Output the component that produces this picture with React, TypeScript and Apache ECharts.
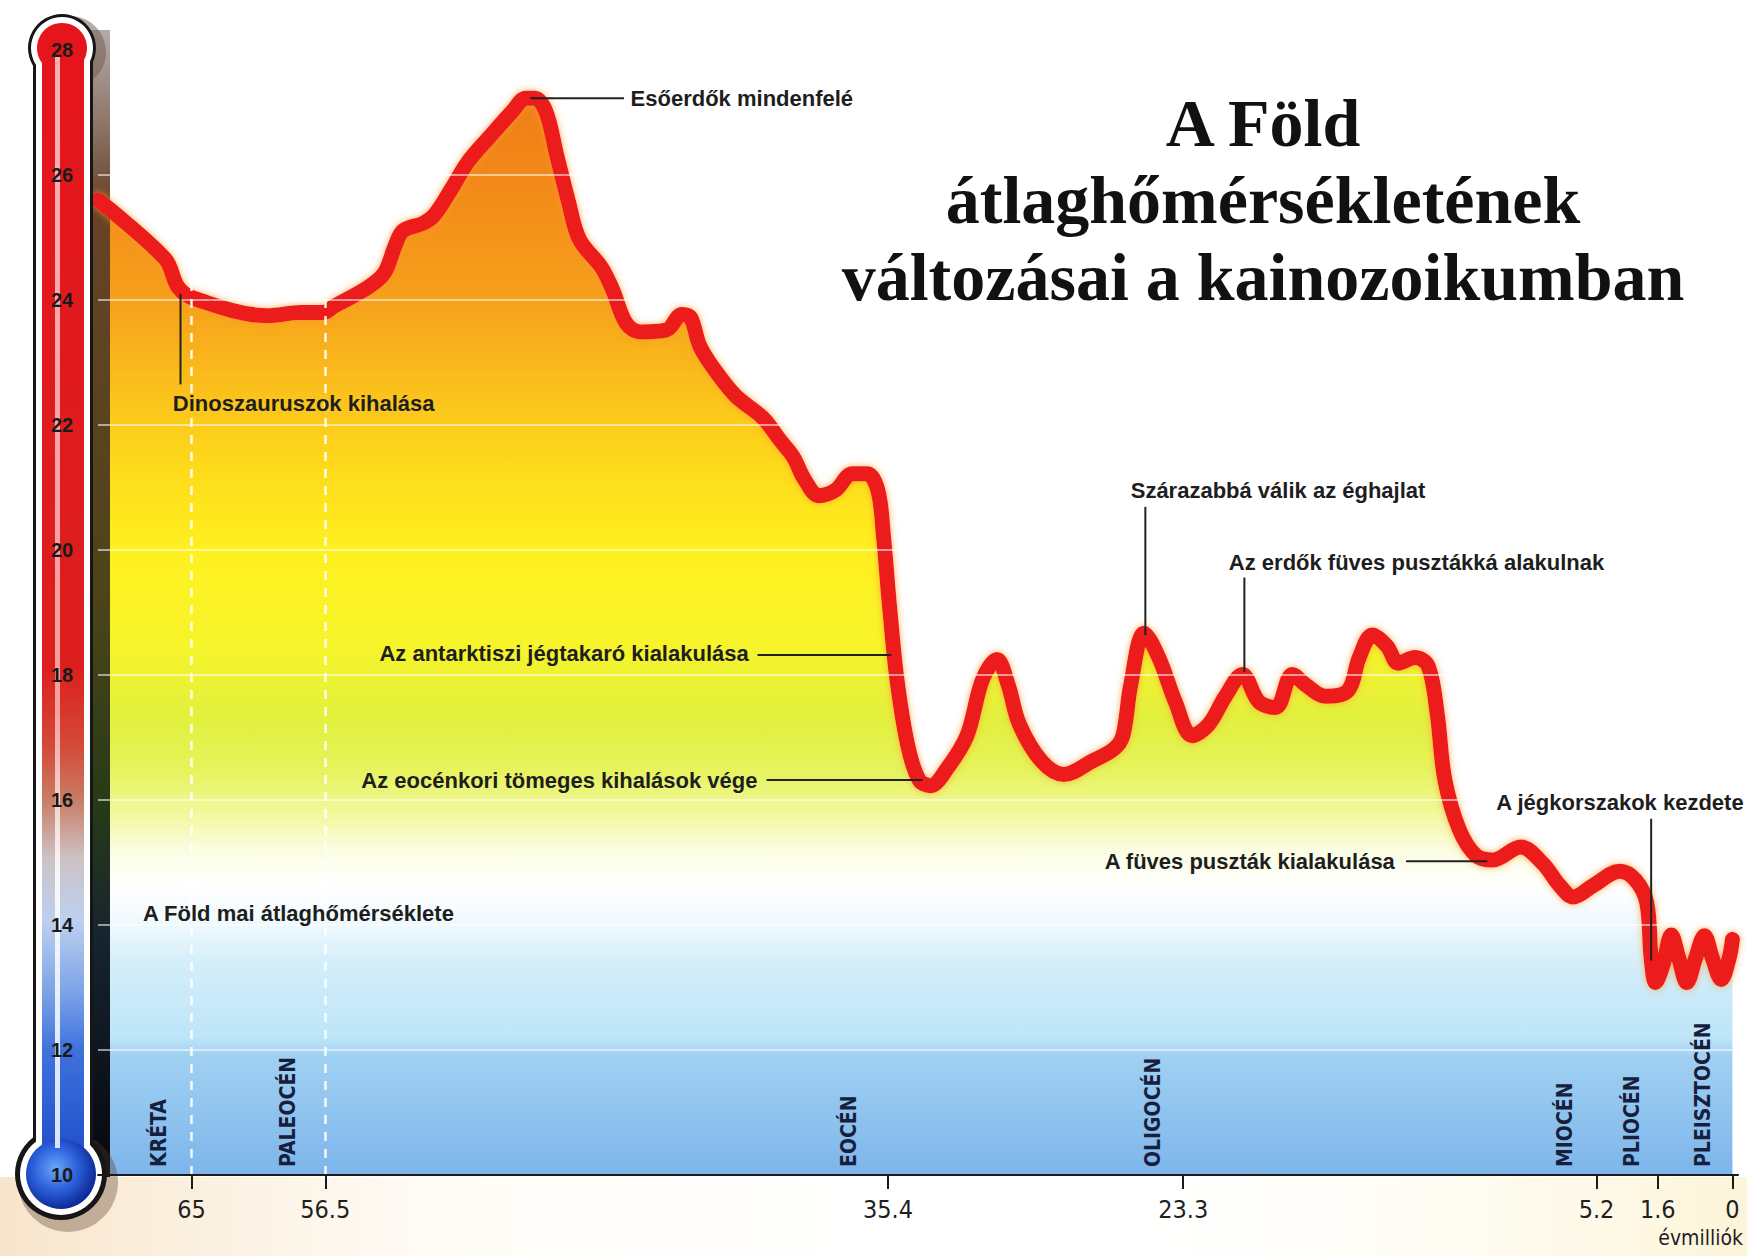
import { useEffect, useRef } from "react";
import * as echarts from "echarts";

// ---- x axis: million years ago (the original uses a piecewise-linear time scale) ----
const TICK_AGES = [65, 56.5, 35.4, 23.3, 5.2, 1.6, 0];
const TICK_LABELS = ["65", "56.5", "35.4", "23.3", "5.2", "1.6", "0"];
const SCALE_AGES = [71, 65, 56.5, 35.4, 23.3, 5.2, 1.6, 0];
const SCALE_POS = [0, 84, 204, 709, 974, 1345, 1400, 1467];
const SCALE_END = 1472;

// ---- y axis: °C ----
const TEMP_MIN = 10;
const TEMP_MAX = 28;
const TEMP_STEP = 2;
const GRID_TEMPS = [12, 14, 16, 18, 20, 22, 24, 26];

// ---- the temperature curve (age in Myr, temperature in °C) ----
const AGES = [
  71.0, 66.7, 65.85, 64.79, 60.18, 58.06, 56.64, 56.17, 54.91, 54.29,
  53.87, 53.58, 52.82, 52.41, 51.78, 51.15, 50.32, 49.48, 48.98, 48.65,
  48.23, 47.81, 47.39, 46.97, 46.14, 45.72, 45.22, 44.68, 43.71, 43.13,
  42.8, 42.46, 41.96, 41.12, 40.08, 39.45, 38.95, 38.53, 37.99, 37.36,
  36.74, 36.19, 35.78, 35.57, 35.35, 35.03, 34.58, 34.12, 33.66, 32.98,
  32.16, 31.52, 30.93, 30.47, 30.01, 29.1, 28.19, 27.04, 26.13, 25.77,
  25.45, 24.9, 24.3, 23.62, 22.91, 22.18, 21.45, 20.71, 19.98, 19.25,
  18.52, 17.93, 17.06, 16.08, 15.59, 15.01, 14.37, 13.88, 13.15, 12.57,
  12.18, 11.84, 11.2, 10.47, 9.74, 8.52, 7.54, 6.81, 6.22, 5.35,
  3.83, 2.91, 2.25, 1.99, 1.73, 1.48, 1.31, 1.15, 0.98, 0.79,
  0.6, 0.43, 0.24, 0.07, 0,
];
const TEMPS = [
  25.6, 24.66, 24.2, 24.02, 23.75, 23.8, 23.8, 23.9, 24.2, 24.43,
  24.88, 25.11, 25.23, 25.36, 25.77, 26.21, 26.62, 27.02, 27.23, 27.23,
  27.02, 26.3, 25.59, 24.97, 24.52, 24.16, 23.63, 23.49, 23.52, 23.77,
  23.72, 23.27, 22.92, 22.47, 22.11, 21.76, 21.49, 21.13, 20.87, 20.96,
  21.22, 21.22, 20.96, 20.24, 19.17, 17.93, 16.86, 16.32, 16.23, 16.5,
  17.03, 17.93, 18.25, 17.84, 17.21, 16.62, 16.41, 16.62, 16.82, 17.03,
  17.84, 18.67, 18.28, 17.57, 17.03, 17.21, 17.66, 18.01, 17.57, 17.48,
  18.01, 17.84, 17.66, 17.75, 18.28, 18.64, 18.46, 18.19, 18.28, 18.14,
  17.39, 16.32, 15.52, 15.11, 15.04, 15.25, 14.98, 14.63, 14.45, 14.63,
  14.86, 14.72, 14.36, 13.47, 13.08, 13.38, 13.84, 13.47, 13.08, 13.47,
  13.83, 13.47, 13.13, 13.47, 13.77,
];

// ---- geological periods ----
const PERIODS = ["KRÉTA", "PALEOCÉN", "EOCÉN", "OLIGOCÉN", "MIOCÉN", "PLIOCÉN", "PLEISZTOCÉN"];
const PERIOD_LABEL_AGES = [67.1, 58.9, 36.86, 24.53, 6.57, 3.11, 0.64];
const BOUNDARY_DASH_AGES = [65, 56.5];

// ---- annotations ----
const NOTE_TEXTS = [
  "Dinoszauruszok kihalása",
  "Esőerdők mindenfelé",
  "Az antarktiszi jégtakaró kialakulása",
  "Az eocénkori tömeges kihalások vége",
  "Szárazabbá válik az éghajlat",
  "Az erdők füves pusztákká alakulnak",
  "A füves puszták kialakulása",
  "A jégkorszakok kezdete",
  "A Föld mai átlaghőmérséklete",
];
const NOTE_AGES = [66.2, 45.05, 40.62, 40.29, 25.45, 21.3, 14.03, 9.59, 68.12];
const NOTE_TEMPS = [22.35, 27.23, 18.34, 16.32, 20.95, 19.8, 15.02, 15.96, 14.18];
const NOTE_ANCHOR = ["left", "left", "right", "right", "left", "left", "right", "left", "left"];
// leader lines: [age1, temp1, age2, temp2]
const NOTE_LEADERS: (number[] | null)[] = [
  [65.71, 24.1, 65.71, 22.65],
  [48.81, 27.23, 45.3, 27.23],
  [40.29, 18.32, 35.26, 18.32],
  [39.95, 16.32, 33.98, 16.32],
  [24.85, 20.69, 24.85, 18.64],
  [20.62, 19.56, 20.62, 18.05],
  [13.54, 15.02, 9.98, 15.02],
  [1.99, 15.7, 1.99, 13.43],
  null,
];

const TITLE_LINES = ["A Föld", "átlaghőmérsékletének", "változásai a kainozoikumban"];
const UNIT_LABEL = "évmilliók";

const SANS = "'Liberation Sans', Arial, sans-serif";
const NARROW = "'Liberation Sans Narrow', 'Arial Narrow', 'DejaVu Sans Condensed', 'Liberation Sans', sans-serif";
const SERIF = "'Liberation Serif', 'DejaVu Serif', serif";

function toPos(age: number): number {
  const n = SCALE_AGES.length;
  let i = 0;
  while (i < n - 2 && age < SCALE_AGES[i + 1]) i++;
  const a0 = SCALE_AGES[i];
  const a1 = SCALE_AGES[i + 1];
  const p0 = SCALE_POS[i];
  const p1 = SCALE_POS[i + 1];
  return p0 + ((a0 - age) / (a0 - a1)) * (p1 - p0);
}

function tickLabel(v: number): string {
  for (let i = 0; i < TICK_AGES.length; i++) {
    if (Math.abs(toPos(TICK_AGES[i]) - v) < 0.01) return TICK_LABELS[i];
  }
  return "";
}

export default function App() {
  const ref = useRef<HTMLDivElement>(null);

  useEffect(() => {
    if (!ref.current) return;
    const chart = echarts.init(ref.current, undefined, { renderer: "svg" });

    const curve = AGES.map((a, i) => [toPos(a), TEMPS[i]]);
    const G = echarts.graphic;

    const yTop = 50;
    const yBot = 1175;
    const off = (t: number) => (TEMP_MAX - t) / (TEMP_MAX - TEMP_MIN);

    const areaGrad = new G.LinearGradient(0, yTop, 0, yBot, [
      { offset: 0, color: "#ef7816" },
      { offset: off(26), color: "#f28818" },
      { offset: off(24), color: "#f6a01b" },
      { offset: off(22.5), color: "#fbc21b" },
      { offset: off(21), color: "#fee01c" },
      { offset: off(20), color: "#fff01f" },
      { offset: off(18.5), color: "#f7f42a" },
      { offset: off(17.3), color: "#e2f03e" },
      { offset: off(16.5), color: "#e6f35a" },
      { offset: off(15.8), color: "#f1f89a" },
      { offset: off(15.2), color: "#fbfde2" },
      { offset: off(14.6), color: "#ffffff" },
      { offset: off(14.0), color: "#eef9fd" },
      { offset: off(13.4), color: "#d4eefa" },
      { offset: off(12.2), color: "#bde5f8" },
      { offset: off(11.9), color: "#a0d0f2" },
      { offset: off(11), color: "#90c4ef" },
      { offset: 1, color: "#7db5eb" },
    ], true);

    const tubeGrad = new G.LinearGradient(0, 48, 0, 1174, [
      { offset: 0, color: "#e5151b" },
      { offset: 0.55, color: "#dc1f1e" },
      { offset: 0.62, color: "#d44a38" },
      { offset: 0.665, color: "#c87a62" },
      { offset: 0.72, color: "#cdc3c6" },
      { offset: 0.775, color: "#bcd0f0" },
      { offset: 0.84, color: "#7aa2e6" },
      { offset: 0.89, color: "#3f71dc" },
      { offset: 1, color: "#1d49c8" },
    ], true);

    const bulbGrad = new G.RadialGradient(0.42, 0.42, 0.62, [
      { offset: 0, color: "#6aa8f8" },
      { offset: 0.5, color: "#2c62dc" },
      { offset: 1, color: "#0a2490" },
    ]);

    const shadowGrad = new G.LinearGradient(0, 30, 0, 1177, [
      { offset: 0, color: "rgba(120,100,95,0.55)" },
      { offset: 0.15, color: "#6a4228" },
      { offset: 0.5, color: "#4c4418" },
      { offset: 0.68, color: "#263a18" },
      { offset: 0.8, color: "#162230" },
      { offset: 1, color: "#05070c" },
    ], true);

    const stripeGrad = new G.LinearGradient(0, 55, 0, 1150, [
      { offset: 0, color: "rgba(255,215,215,0.8)" },
      { offset: 0.6, color: "rgba(255,210,205,0.7)" },
      { offset: 0.75, color: "rgba(255,255,255,0.85)" },
      { offset: 1, color: "rgba(235,245,255,0.9)" },
    ], true);

    const bottomGrad = new G.LinearGradient(0, 0, 1747, 0, [
      { offset: 0, color: "rgba(245,220,185,0.75)" },
      { offset: 0.25, color: "rgba(255,250,240,0.6)" },
      { offset: 0.6, color: "rgba(255,255,255,0)" },
      { offset: 1, color: "rgba(252,240,200,0.7)" },
    ], true);

    const tickPos = TICK_AGES.map(toPos);

    const option: any = {
      animation: false,
      backgroundColor: "#ffffff",
      grid: { left: 98, right: 9, top: yTop, bottom: 1256 - yBot, containLabel: false },
      xAxis: {
        type: "value",
        min: 0,
        max: SCALE_END,
        axisLine: { show: true, lineStyle: { color: "#1a1a1a", width: 2 } },
        axisTick: {
          show: true,
          customValues: tickPos,
          length: 14,
          inside: false,
          lineStyle: { color: "#1a1a1a", width: 2 },
        },
        axisLabel: {
          customValues: tickPos,
          formatter: (v: number) => tickLabel(v),
          margin: 22,
          fontSize: 25,
          color: "#1f1f1f",
          fontFamily: NARROW,
        },
        splitLine: { show: false },
        z: 10,
      },
      yAxis: {
        type: "value",
        min: TEMP_MIN,
        max: TEMP_MAX,
        interval: TEMP_STEP,
        axisLine: { show: false },
        axisTick: { show: false },
        splitLine: { show: false },
        axisLabel: {
          margin: 36,
          align: "center",
          fontSize: 20,
          fontWeight: "bold",
          color: "#1a1a1a",
          fontFamily: SANS,
        },
        z: 20,
      },
      graphic: [
        { type: "rect", shape: { x: 0, y: yBot + 2, width: 1747, height: 1256 - yBot - 2 }, style: { fill: bottomGrad }, z: -10, silent: true },
        // thermometer shadow
        { type: "rect", shape: { x: 91, y: 30, width: 19, height: 1147 }, style: { fill: shadowGrad }, z: 3, silent: true },
        { type: "circle", shape: { cx: 70, cy: 52, r: 36 }, style: { fill: "rgba(110,90,80,0.5)" }, z: 5, silent: true },
        { type: "circle", shape: { cx: 68, cy: 1182, r: 50 }, style: { fill: "rgba(90,60,40,0.35)" }, z: 5, silent: true },
        // outline
        { type: "circle", shape: { cx: 62, cy: 48, r: 34 }, style: { fill: "#161616" }, z: 6, silent: true },
        { type: "rect", shape: { x: 33, y: 48, width: 60, height: 1126 }, style: { fill: "#161616" }, z: 6, silent: true },
        { type: "circle", shape: { cx: 61, cy: 1174, r: 46 }, style: { fill: "#161616" }, z: 6, silent: true },
        // white ring
        { type: "circle", shape: { cx: 62, cy: 48, r: 31 }, style: { fill: "#ffffff" }, z: 7, silent: true },
        { type: "rect", shape: { x: 36, y: 48, width: 54, height: 1126 }, style: { fill: "#ffffff" }, z: 7, silent: true },
        { type: "circle", shape: { cx: 61, cy: 1174, r: 41 }, style: { fill: "#ffffff" }, z: 7, silent: true },
        // liquid
        { type: "circle", shape: { cx: 62, cy: 48, r: 25 }, style: { fill: "#e5151b" }, z: 8, silent: true },
        { type: "rect", shape: { x: 42, y: 48, width: 42, height: 1126 }, style: { fill: tubeGrad }, z: 8, silent: true },
        { type: "circle", shape: { cx: 61, cy: 1174, r: 35 }, style: { fill: bulbGrad }, z: 8, silent: true },
        { type: "rect", shape: { x: 55, y: 56, width: 5, height: 1092 }, style: { fill: stripeGrad }, z: 9, silent: true },
        // title
        ...TITLE_LINES.map((t, i) => ({
          type: "text",
          x: 1263,
          y: [123, 200, 277][i],
          z: 30,
          silent: true,
          style: {
            text: t,
            fill: "#111111",
            fontSize: 68,
            fontWeight: "bold",
            fontFamily: SERIF,
            align: "center",
            verticalAlign: "middle",
          },
        })),
        {
          type: "text",
          x: 1743,
          y: 1238,
          z: 30,
          silent: true,
          style: { text: UNIT_LABEL, fill: "#1f1f1f", fontSize: 21, fontFamily: NARROW, align: "right", verticalAlign: "middle" },
        },
      ],
      series: [
        {
          type: "line",
          data: curve,
          smooth: 0.35,
          showSymbol: false,
          symbol: "none",
          lineStyle: { width: 0, opacity: 0 },
          areaStyle: { color: areaGrad, origin: "start", opacity: 1 },
          z: 2,
          silent: true,
          markLine: {
            silent: true,
            symbol: ["none", "none"],
            label: { show: false },
            animation: false,
            data: [
              ...GRID_TEMPS.map((t) => ({ yAxis: t, lineStyle: { color: "rgba(255,255,255,0.55)", width: 2, type: "solid" } })),
              ...BOUNDARY_DASH_AGES.map((a) => ({ xAxis: toPos(a), lineStyle: { color: "rgba(255,255,255,0.9)", width: 2.5, type: [9, 8] } })),
            ],
          },
        },
        {
          type: "line",
          data: curve,
          smooth: 0.35,
          showSymbol: false,
          symbol: "none",
          lineStyle: {
            color: "#ec1b1b",
            width: 15,
            cap: "round",
            join: "round",
            shadowColor: "rgba(255,150,50,0.75)",
            shadowBlur: 7,
          },
          z: 4,
          silent: true,
        },
        {
          type: "custom",
          z: 12,
          clip: false,
          silent: true,
          data: NOTE_TEXTS.map((_, i) => [toPos(NOTE_AGES[i]), NOTE_TEMPS[i]]),
          renderItem: (params: any, api: any) => {
            const i = params.dataIndex;
            const children: any[] = [];
            const l = NOTE_LEADERS[i];
            if (l) {
              const p1 = api.coord([toPos(l[0]), l[1]]);
              const p2 = api.coord([toPos(l[2]), l[3]]);
              children.push({
                type: "line",
                shape: { x1: p1[0], y1: p1[1], x2: p2[0], y2: p2[1] },
                style: { stroke: "#222222", lineWidth: 2 },
              });
            }
            const p = api.coord([api.value(0), api.value(1)]);
            children.push({
              type: "text",
              x: p[0],
              y: p[1],
              style: {
                text: NOTE_TEXTS[i],
                fill: "#1e1e1e",
                fontSize: 22,
                fontWeight: "bold",
                fontFamily: SANS,
                align: NOTE_ANCHOR[i],
                verticalAlign: "middle",
              },
            });
            return { type: "group", children };
          },
        },
        {
          type: "custom",
          z: 12,
          clip: false,
          silent: true,
          data: PERIOD_LABEL_AGES.map((a) => [toPos(a), TEMP_MIN]),
          renderItem: (params: any, api: any) => {
            const p = api.coord([api.value(0), api.value(1)]);
            return {
              type: "text",
              x: p[0],
              y: p[1] - 8,
              rotation: Math.PI / 2,
              style: {
                text: PERIODS[params.dataIndex],
                fill: "#16203c",
                fontSize: 21,
                fontWeight: "bold",
                fontFamily: NARROW,
                align: "left",
                verticalAlign: "middle",
              },
            };
          },
        },
      ],
    };

    chart.setOption(option);
    return () => chart.dispose();
  }, []);

  return (
    <div
      ref={ref}
      style={{ position: "absolute", left: 0, top: 0, width: 1747, height: 1256, background: "#fff" }}
    />
  );
}
